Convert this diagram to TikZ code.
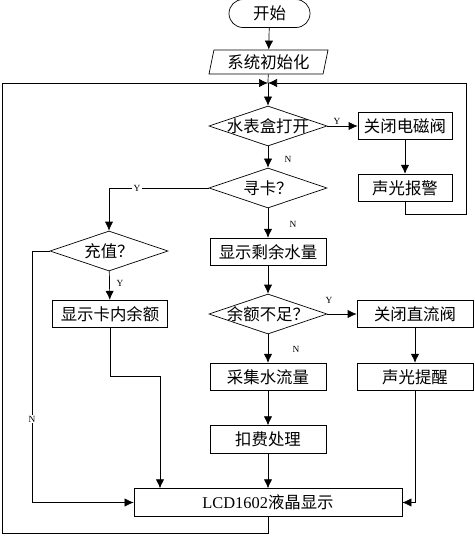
\documentclass[tikz,border=0pt]{standalone}
\usepackage{fontspec}
\setmainfont{Liberation Serif}
\newfontfamily\cjk{Noto Sans CJK SC}
\usetikzlibrary{
	shapes.geometric,
	arrows.meta}

\begin{document}
\begin{tikzpicture}[x=0.03cm, y=-0.03cm, line width=0.6pt,
    >={Latex[length=2.7mm,width=2.5mm]},
    font=\cjk\fontsize{14}{16}\selectfont,
    box/.style={draw, rectangle, minimum height=0.83cm, inner sep=0pt},
    dia/.style={draw, diamond, aspect=2.95, minimum width=3.54cm, minimum height=1.2cm, inner sep=0pt},
    yn/.style={font=\rmfamily\fontsize{8}{9}\selectfont, inner sep=1pt}]
      \useasboundingbox (0,0) rectangle (474,536);

      \node[draw, rounded corners=0.42cm, minimum width=2.43cm, minimum height=0.84cm] (St) at (269.5,13.5) {开始};
      \node[draw, trapezium, trapezium left angle=72, trapezium right angle=108, trapezium stretches body,
        minimum width=3.57cm, minimum height=0.72cm, inner sep=0pt] (Init) at (268.5,62) {系统初始化};
      \coordinate (J) at (268,83);

      \node[dia] (D1) at (268,126) {\makebox[0pt]{水表盒打开}};
      \node[box, minimum width=2.82cm] (V1) at (405,126) {关闭电磁阀};
      \node[box, minimum width=2.82cm] (Alm) at (405,188) {声光报警};
      \coordinate (R1) at (466,214);

      \node[dia] (Find) at (268,188) {\makebox[0pt]{寻卡？}};
      \node[box, minimum width=3.48cm] (Left) at (268,252) {显示剩余水量};

      \node[dia] (Chg) at (109,251) {\makebox[0pt]{充值？}};
      \node[box, minimum width=3.45cm] (Card) at (110,314) {显示卡内余额};
      \coordinate (B1) at (160,376);
      \coordinate (C1) at (32,502.5);

      \node[dia] (D3) at (268,314) {\makebox[0pt]{余额不足？}};
      \node[box, minimum width=3.48cm] (V2) at (415,314) {关闭直流阀};
      \node[box, minimum width=3.48cm] (Flow) at (268,377) {采集水流量};
      \node[box, minimum width=3.48cm] (Rem) at (415,377) {声光提醒};
      \node[box, minimum width=3.48cm] (Fee) at (268,439.5) {扣费处理};

      \node[box, minimum width=8.04cm] (LCD) at (268,502.5) {{\rmfamily LCD1602}液晶显示};
      \coordinate (L1) at (2,533);

      \draw [->] (St)     to (Init);
      \draw      (Init)   to (J);
      \draw [->] (J)      to (D1);
      \draw [->] (D1)     to (V1);
      \draw [->] (V1)     to (Alm);
      \draw [->] (Alm)    |- (R1) |- (J);
      \draw [->] (D1)     to (Find);
      \draw [->] (Find)   -| (Chg);
      \draw [->] (Find)   to (Left);
      \draw [->] (Chg)    to (Card);
      \draw [->] (Chg.west) -| (C1) -- (LCD.west);
      \draw [->] (Card)   |- (B1) -- (B1 |- LCD.north);
      \draw [->] (Left)   to (D3);
      \draw [->] (D3)     to (V2);
      \draw [->] (V2)     to (Rem);
      \draw [->] (D3)     to (Flow);
      \draw [->] (Flow)   to (Fee);
      \draw [->] (Fee)    to (LCD);
      \draw [->] (Rem)    |- (LCD.east);
      \draw [->] (LCD)    |- (L1) |- (J);

      \node[yn] (y1) at (337,121) {Y};
      \node[yn] (n1) at (288,159) {N};
      \node[yn, fill=white] (y2) at (137,188) {Y};
      \node[yn] (n2) at (293,224) {N};
      \node[yn] (y3) at (120,283) {Y};
      \node[yn] (y4) at (329,300) {Y};
      \node[yn] (n3) at (296,349) {N};
      \node[yn, fill=white] (n4) at (32,419) {N};
\end{tikzpicture}
\end{document}
